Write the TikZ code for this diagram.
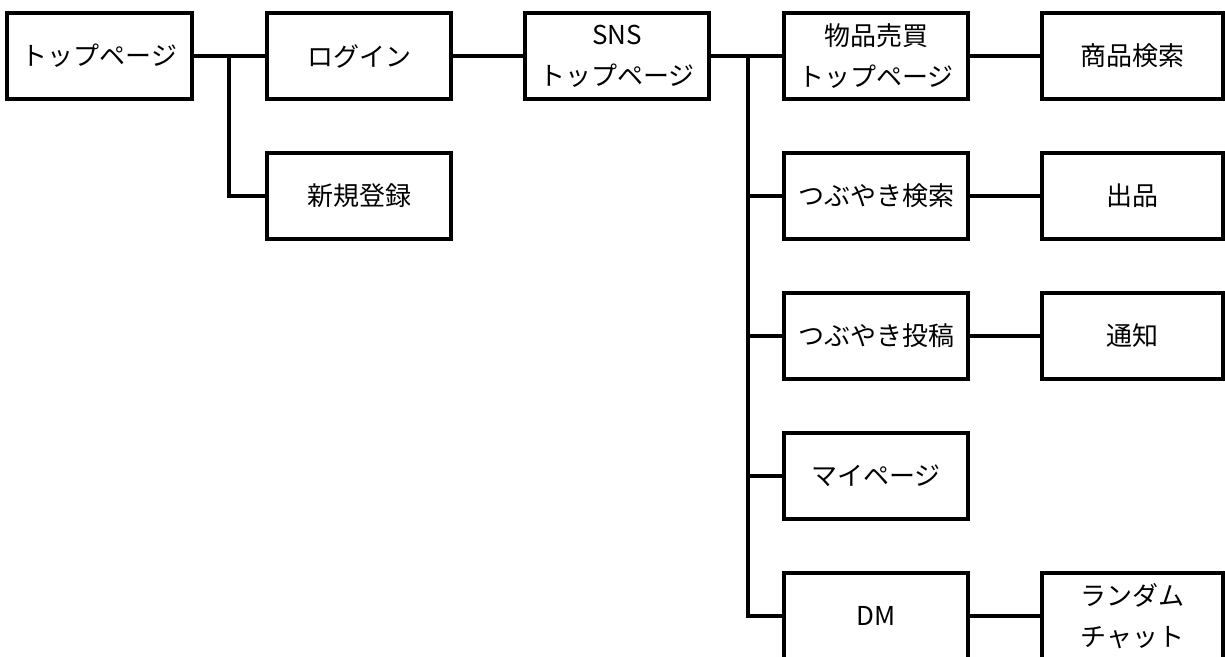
\documentclass[tikz,border=0pt]{standalone}
\usepackage{fontspec}
\setmainfont{Noto Sans CJK JP}
\usetikzlibrary{calc}

\begin{document}
\begin{tikzpicture}[x=1pt,y=-1pt,line width=3.2pt,
    pagebox/.style={draw,line width=3.2pt,minimum width=184pt,minimum height=86pt,
        inner sep=0pt,align=center,font=\fontsize{26}{41}\selectfont},
    endbox/.style={pagebox,minimum width=181pt}]
                \useasboundingbox (0,0) rectangle (1225,656);
                \node[pagebox,minimum width=185pt] (top) at (99.5,56) {トップページ};
                \node[pagebox] (login) at (359,56) {ログイン};
                \node[pagebox] (signup) at (359,196) {新規登録};
                \node[pagebox] (sns) at (617,56) {SNS\\トップページ};
                \node[pagebox] (shop) at (876,56) {物品売買\\トップページ};
                \node[pagebox] (search) at (876,196) {つぶやき検索};
                \node[pagebox] (post) at (876,336) {つぶやき投稿};
                \node[pagebox] (mypage) at (876,476) {マイページ};
                \node[pagebox] (dm) at (876,616) {DM};
                \node[endbox] (item) at (1132.5,56) {商品検索};
                \node[endbox] (sell) at (1132.5,196) {出品};
                \node[endbox] (notice) at (1132.5,336) {通知};
                \node[endbox] (chat) at (1132.5,616) {ランダム\\チャット};
                \coordinate (ja) at (229,56);
                \coordinate (jb) at (748,56);
                \draw (top) -- (login);
                \draw (ja) |- (signup.west);
                \draw (login) -- (sns);
                \draw (sns) -- (shop);
                \foreach \n in {search,post,mypage,dm}
                    \draw (jb) |- (\n.west);
                \draw (shop) -- (item);
                \draw (search) -- (sell);
                \draw (post) -- (notice);
                \draw (dm) -- (chat);
            \end{tikzpicture}
\end{document}
